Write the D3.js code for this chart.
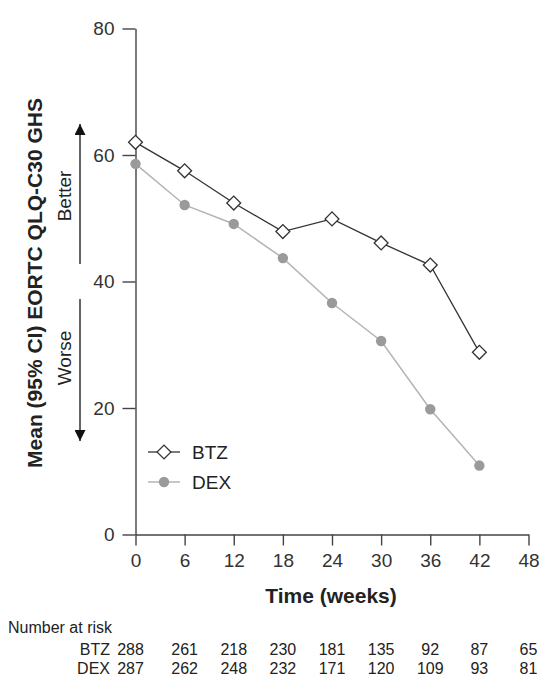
<!DOCTYPE html>
<html>
<head>
<meta charset="utf-8">
<script src="https://cdn.jsdelivr.net/npm/d3@7"></script>
<style>
  body { margin: 0; background: #fff; }
  svg { font-family: "Liberation Sans", Arial, sans-serif; }
</style>
</head>
<body>
<div id="chart"></div>
<script>
// data
const weeks = [0, 6, 12, 18, 24, 30, 36, 42];
const btzMean = [62.0, 57.5, 52.4, 47.9, 49.9, 46.1, 42.6, 28.8];
const dexMean = [58.6, 52.1, 49.1, 43.7, 36.6, 30.6, 19.8, 10.9];

const xTicks = [0, 6, 12, 18, 24, 30, 36, 42, 48];
const yTicks = [0, 20, 40, 60, 80];

const riskWeeks = [0, 6, 12, 18, 24, 30, 36, 42, 48];
const btzRisk = [288, 261, 218, 230, 181, 135, 92, 87, 65];
const dexRisk = [287, 262, 248, 232, 171, 120, 109, 93, 81];

const W = 540, H = 678;
const axisColor = "#444";
const btzColor = "#333";
const dexLine = "#b4b4b4";
const dexDot = "#9a9a9c";

const svg = d3.select("#chart").append("svg")
  .attr("width", W)
  .attr("height", H);

const x = d3.scaleLinear().domain([0, 48]).range([135.5, 528.5]);
const y = d3.scaleLinear().domain([0, 80]).range([534.5, 28.5]);

// axes
const yAxis = svg.append("g")
  .attr("transform", `translate(${x(0)},0)`)
  .call(d3.axisLeft(y).tickValues(yTicks).tickSize(13).tickSizeOuter(0).tickPadding(8));
const xAxis = svg.append("g")
  .attr("transform", `translate(0,${y(0)})`)
  .call(d3.axisBottom(x).tickValues(xTicks).tickSize(11).tickSizeOuter(0).tickPadding(8));

[xAxis, yAxis].forEach((g) => {
  g.select(".domain").attr("stroke", axisColor).attr("stroke-width", 1.4);
  g.selectAll(".tick line").attr("stroke", axisColor).attr("stroke-width", 1.4);
  g.selectAll(".tick text")
    .attr("fill", "#333")
    .attr("font-size", 19)
    .attr("font-family", "Liberation Sans, Arial, sans-serif");
});

// axis titles
svg.append("text")
  .attr("transform", `translate(42,283) rotate(-90)`)
  .attr("text-anchor", "middle")
  .attr("font-weight", "bold")
  .attr("font-size", 21)
  .attr("fill", "#222")
  .text("Mean (95% CI) EORTC QLQ-C30 GHS");

svg.append("text")
  .attr("x", 331)
  .attr("y", 603)
  .attr("text-anchor", "middle")
  .attr("font-weight", "bold")
  .attr("font-size", 21)
  .attr("fill", "#222")
  .text("Time (weeks)");

// better / worse annotation
const defs = svg.append("defs");
defs.append("marker")
  .attr("id", "head")
  .attr("viewBox", "0 0 10 10")
  .attr("refX", 10)
  .attr("refY", 5)
  .attr("markerWidth", 11)
  .attr("markerHeight", 11)
  .attr("markerUnits", "userSpaceOnUse")
  .attr("orient", "auto")
  .append("path")
  .attr("d", "M0,0L10,5L0,10Z")
  .attr("fill", "#111");

svg.append("line")
  .attr("x1", 80).attr("x2", 80)
  .attr("y1", 264).attr("y2", 124)
  .attr("stroke", "#111").attr("stroke-width", 1.3)
  .attr("marker-end", "url(#head)");
svg.append("line")
  .attr("x1", 80).attr("x2", 80)
  .attr("y1", 299).attr("y2", 441)
  .attr("stroke", "#111").attr("stroke-width", 1.3)
  .attr("marker-end", "url(#head)");

svg.append("text")
  .attr("transform", "translate(71,196) rotate(-90)")
  .attr("text-anchor", "middle")
  .attr("font-size", 19)
  .attr("fill", "#222")
  .text("Better");
svg.append("text")
  .attr("transform", "translate(71,358) rotate(-90)")
  .attr("text-anchor", "middle")
  .attr("font-size", 19)
  .attr("fill", "#222")
  .text("Worse");

// series
const btz = weeks.map((w, i) => ({ w, v: btzMean[i] }));
const dex = weeks.map((w, i) => ({ w, v: dexMean[i] }));
const line = d3.line().x((d) => x(d.w)).y((d) => y(d.v));

svg.append("path")
  .datum(dex)
  .attr("d", line)
  .attr("fill", "none")
  .attr("stroke", dexLine)
  .attr("stroke-width", 1.5);
svg.append("path")
  .datum(btz)
  .attr("d", line)
  .attr("fill", "none")
  .attr("stroke", btzColor)
  .attr("stroke-width", 1.3);

const diamond = d3.symbol().type(d3.symbolSquare).size(96);

svg.append("g")
  .selectAll("circle")
  .data(dex)
  .join("circle")
  .attr("cx", (d) => x(d.w))
  .attr("cy", (d) => y(d.v))
  .attr("r", 5.2)
  .attr("fill", dexDot);

svg.append("g")
  .selectAll("path")
  .data(btz)
  .join("path")
  .attr("d", diamond)
  .attr("transform", (d) => `translate(${x(d.w)},${y(d.v)}) rotate(45)`)
  .attr("fill", "#fff")
  .attr("stroke", btzColor)
  .attr("stroke-width", 1.3);

// legend
const legend = svg.append("g").attr("transform", "translate(148,452)");
legend.append("line").attr("x1", 0).attr("x2", 32).attr("y1", 0).attr("y2", 0)
  .attr("stroke", btzColor).attr("stroke-width", 1.3);
legend.append("path").attr("d", diamond)
  .attr("transform", "translate(16,0) rotate(45)")
  .attr("fill", "#fff").attr("stroke", btzColor).attr("stroke-width", 1.3);
legend.append("text").attr("x", 44).attr("y", 0).attr("dy", "0.35em")
  .attr("font-size", 19).attr("fill", "#222").text("BTZ");

legend.append("line").attr("x1", 0).attr("x2", 32).attr("y1", 30).attr("y2", 30)
  .attr("stroke", dexLine).attr("stroke-width", 1.5);
legend.append("circle").attr("cx", 16).attr("cy", 30).attr("r", 5.2).attr("fill", dexDot);
legend.append("text").attr("x", 44).attr("y", 30).attr("dy", "0.35em")
  .attr("font-size", 19).attr("fill", "#222").text("DEX");

// number at risk table
svg.append("text")
  .attr("x", 8).attr("y", 633)
  .attr("font-size", 16).attr("fill", "#222")
  .text("Number at risk");

const rows = [
  { name: "BTZ", values: btzRisk, yy: 655 },
  { name: "DEX", values: dexRisk, yy: 674 },
];
rows.forEach((r) => {
  svg.append("text")
    .attr("x", 110).attr("y", r.yy)
    .attr("text-anchor", "end")
    .attr("font-size", 16).attr("fill", "#222")
    .text(r.name);
  svg.append("g")
    .selectAll("text")
    .data(r.values)
    .join("text")
    .attr("x", (d, i) => x(riskWeeks[i]) + (i === 0 ? -5 : 0))
    .attr("y", r.yy)
    .attr("text-anchor", "middle")
    .attr("font-size", 16)
    .attr("fill", "#222")
    .text((d) => d);
});
</script>
</body>
</html>
